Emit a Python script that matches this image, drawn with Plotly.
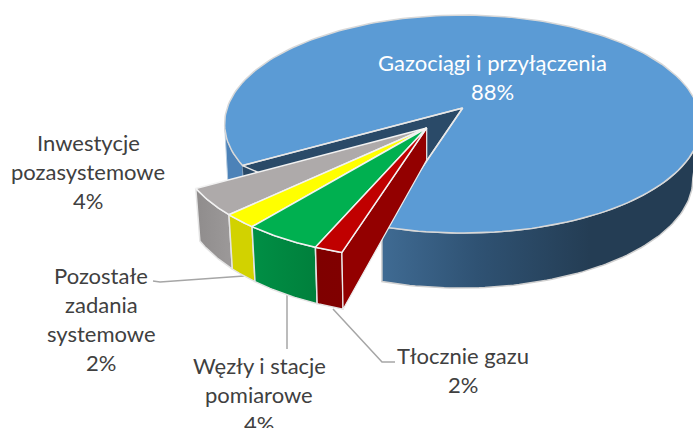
import math
import plotly.graph_objects as go

# ---- data ----
categories = ["Inwestycje\npozasystemowe", "Pozostałe\nzadania\nsystemowe", "Węzły i stacje\npomiarowe", "Tłocznie gazu", "Gazociągi i przyłączenia"]
values = [3.9, 2.0, 4.4, 1.6, 88.1]
top_colors = ["#AEAAAA", "#FFFF00", "#00B050", "#C00000", "#5B9BD5"]
side_colors = [("#8F8C8C", "#9B9898"), ("#D2D200", "#D2D200"), ("#008F45", "#00803C"), ("#7F0000", "#800000"), ("#3F6A92", "#243D54")]
label_centers = [(88, 142), (101, 275), (259, 365), (463, 355), (492, 62)]

FONT = "Lato"
FS = 22
START = 30.0
K = 0.147


class Pie:
    def __init__(self, ax, ay, a, b, vx, s, d0, yr, m):
        self.__dict__.update(locals())

    def top(self, phi):
        r = math.radians(phi)
        den = 1 - K * math.sin(r)
        return (self.ax - self.a * math.cos(r) / den, self.ay + self.b * math.sin(r) / den)

    def bot(self, phi):
        x, y = self.top(phi)
        return (self.vx + (x - self.vx) * self.s, y + self.d0 + (y - self.yr) * self.m)


main = Pie(462.7, 108, 235.5, 106.7, 385, 0.975, 55, 227, 0)
back = Pie(462.7, 108, 235.5, 106.7, 385, 0.975, 72, 227, 0)
expl = Pie(426.7, 128, 247, 112, 400, 0.98, 52.7, 189, 0.0625)


def arc(fn, p0, p1, n=80):
    return [fn(p0 + (p1 - p0) * i / n) for i in range(n + 1)]


fig = go.Figure()


def poly(pts, fill=None, line="#FFFFFF", width=1.5, grad=None):
    kw = dict(
        x=[p[0] for p in pts] + [pts[0][0]],
        y=[p[1] for p in pts] + [pts[0][1]],
        mode="lines",
        fill="toself",
        line=dict(color=line, width=width),
        hoverinfo="skip",
        showlegend=False,
    )
    if grad:
        kw["fillgradient"] = dict(type="horizontal", colorscale=grad[0], start=grad[1], stop=grad[2])
    else:
        kw["fillcolor"] = fill
    fig.add_trace(go.Scatter(**kw))


def leader(pts):
    fig.add_trace(go.Scatter(x=[p[0] for p in pts], y=[p[1] for p in pts], mode="lines",
                             line=dict(color="#A6A6A6", width=1.5), hoverinfo="skip", showlegend=False))


# slice angles from the values
angles = []
c = START
for v in values:
    angles.append((c, c + v * 3.6))
    c += v * 3.6
p0, p1 = angles[4]

# main slice: walls, cut face, top
poly(arc(main.top, 368.5, p1) + arc(back.bot, p1, 368.5), fill="#4C82B8", line="#B8CDE0", width=1)
poly(arc(main.top, p0, 172) + arc(main.bot, 172, p0), line="#D0D0D0", width=1.5,
     grad=([[0, side_colors[4][0]], [0.45, "#2F5273"], [1, side_colors[4][1]]], 385, 590))
corner = main.top(p1)
poly([(main.ax, main.ay), corner, (corner[0] + 1, corner[1] + 12), (expl.ax, expl.ay + 35)],
     fill="#2A4A68", line="#2A4A68", width=0.5)
poly([(main.ax, main.ay)] + arc(main.top, p0, p1, 200), fill=top_colors[4], line="#D8D8D8", width=1.5)
poly([main.top(p1), (main.ax, main.ay), main.top(p0)], fill="rgba(0,0,0,0)", line="#E8E8E8", width=1.5)

# leader lines
leader([(153, 281), (160, 282), (244, 276)])
leader([(287, 295), (287, 349)])
leader([(333, 309), (382, 362), (395, 362)])

# exploded slices: walls, then tops
for i in range(4):
    a0, a1 = angles[i]
    poly(arc(expl.top, a0, a1, 30) + arc(expl.bot, a1, a0, 30), line="#E4E4E4", width=1.5,
         grad=([[0, side_colors[i][0]], [1, side_colors[i][1]]], expl.top(a0)[0], expl.top(a1)[0]))
end = angles[3][1]
poly([(expl.ax, expl.ay), expl.top(end), expl.bot(end), (expl.ax, expl.ay + 32)],
     fill="#930000", line="#EDEDED", width=1.2)
for i in range(4):
    a0, a1 = angles[i]
    poly([(expl.ax, expl.ay)] + arc(expl.top, a0, a1, 30), fill=top_colors[i], line="#F2F2F2", width=1.5)

# labels
annotations = []
for i in range(5):
    lines = categories[i].split("\n") + [f"{round(values[i])}%"]
    cx, cy = label_centers[i]
    for j, t in enumerate(lines):
        annotations.append(dict(x=cx, y=cy + j * 29, text=t, showarrow=False, xref="x", yref="y",
                                xanchor="center", yanchor="middle",
                                font=dict(family=FONT, size=FS, color="#FFFFFF" if i == 4 else "#404040")))

fig.update_layout(
    width=693, height=428, autosize=False,
    margin=dict(l=0, r=0, t=0, b=0),
    paper_bgcolor="white", plot_bgcolor="white",
    xaxis=dict(range=[0, 693], visible=False, fixedrange=True),
    yaxis=dict(range=[428, 0], visible=False, fixedrange=True),
    annotations=annotations,
    showlegend=False,
)
fig.write_html("out.html", post_script="document.body.style.margin='0';", config={"displayModeBar": False})
